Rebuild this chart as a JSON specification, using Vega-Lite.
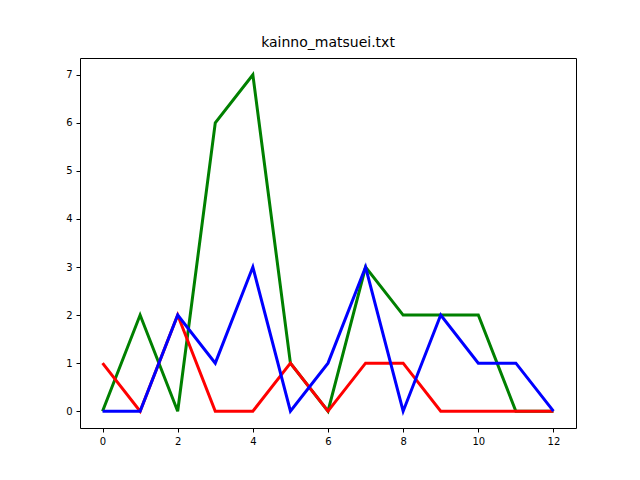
{"$schema":"https://vega.github.io/schema/vega-lite/v6.json","width":496,"height":370,"autosize":{"type":"none"},"padding":{"left":80,"top":58,"right":64,"bottom":52},"background":"white","title":{"text":"kainno_matsuei.txt","font":"DejaVu Sans","fontSize":14,"fontWeight":"normal","color":"black","offset":8},"config":{"view":{"stroke":"black","strokeWidth":1},"axis":{"grid":false,"domain":false,"tickColor":"black","labelColor":"black","labelFont":"DejaVu Sans","labelFontSize":10,"tickSize":4,"labelPadding":4}},"data":{"values":[
{"x":0,"y":0,"s":"a"},{"x":1,"y":2,"s":"a"},{"x":2,"y":0,"s":"a"},{"x":3,"y":6,"s":"a"},{"x":4,"y":7,"s":"a"},{"x":5,"y":1,"s":"a"},{"x":6,"y":0,"s":"a"},{"x":7,"y":3,"s":"a"},{"x":8,"y":2,"s":"a"},{"x":9,"y":2,"s":"a"},{"x":10,"y":2,"s":"a"},{"x":11,"y":0,"s":"a"},{"x":12,"y":0,"s":"a"},
{"x":0,"y":1,"s":"b"},{"x":1,"y":0,"s":"b"},{"x":2,"y":2,"s":"b"},{"x":3,"y":0,"s":"b"},{"x":4,"y":0,"s":"b"},{"x":5,"y":1,"s":"b"},{"x":6,"y":0,"s":"b"},{"x":7,"y":1,"s":"b"},{"x":8,"y":1,"s":"b"},{"x":9,"y":0,"s":"b"},{"x":10,"y":0,"s":"b"},{"x":11,"y":0,"s":"b"},{"x":12,"y":0,"s":"b"},
{"x":0,"y":0,"s":"c"},{"x":1,"y":0,"s":"c"},{"x":2,"y":2,"s":"c"},{"x":3,"y":1,"s":"c"},{"x":4,"y":3,"s":"c"},{"x":5,"y":0,"s":"c"},{"x":6,"y":1,"s":"c"},{"x":7,"y":3,"s":"c"},{"x":8,"y":0,"s":"c"},{"x":9,"y":2,"s":"c"},{"x":10,"y":1,"s":"c"},{"x":11,"y":1,"s":"c"},{"x":12,"y":0,"s":"c"}
]},"mark":{"type":"line","strokeWidth":3,"clip":true},"encoding":{"x":{"field":"x","type":"quantitative","scale":{"domain":[-0.6,12.6],"nice":false,"zero":false},"axis":{"values":[0,2,4,6,8,10,12],"title":null}},"y":{"field":"y","type":"quantitative","scale":{"domain":[-0.35,7.35],"nice":false,"zero":false},"axis":{"values":[0,1,2,3,4,5,6,7],"title":null}},"color":{"field":"s","type":"nominal","scale":{"domain":["a","b","c"],"range":["#008000","#ff0000","#0000ff"]},"legend":null},"order":{"field":"x"}}}
